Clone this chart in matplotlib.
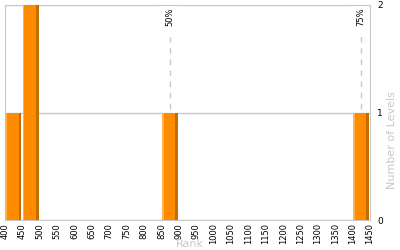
import matplotlib.pyplot as plt

# histogram bins (left edge) and counts
bin_left = [400, 450, 850, 1400]
counts = [1, 2, 1, 1]
bin_width = 50

# percentile markers
pct_labels = ["50%", "75%"]
pct_values = [875, 1424]

xticks = list(range(400, 1451, 50))
yticks = [0, 1, 2]

fig = plt.figure(figsize=(4, 2.5), dpi=100)
ax = fig.add_axes([0.0125, 0.12, 0.9125, 0.86])

main = "#ff8c00"
light = "#ffb34d"
dark = "#c46e00"

for left, c in zip(bin_left, counts):
    w = bin_width - 4
    x0 = left + 1
    ax.bar(x0, c, width=w, align="edge", color=main, linewidth=0, zorder=3)
    ax.bar(x0, c, width=5, align="edge", color=light, linewidth=0, zorder=4)
    ax.bar(x0 + w - 8, c, width=8, align="edge", color=dark, linewidth=0, zorder=4)

for lab, v in zip(pct_labels, pct_values):
    ax.axvline(v, color="#c8c8c8", linestyle=(0, (4, 4)), linewidth=1, zorder=1)
    ax.text(v, 1.98, lab, rotation=90, ha="center", va="top", fontsize=6,
            color="black", backgroundcolor="white", zorder=2)

ax.set_xlim(400, 1450)
ax.set_ylim(0, 2)
ax.set_xticks(xticks)
ax.set_xticklabels([str(t) for t in xticks], rotation=90, fontsize=6)
ax.set_yticks(yticks)
ax.yaxis.tick_right()
ax.tick_params(axis="y", length=0, labelsize=6.5, pad=5)
ax.tick_params(axis="x", length=0, pad=2)
ax.grid(axis="y", color="#c8c8c8", linewidth=1, zorder=0)
for s in ax.spines.values():
    s.set_color("#c8c8c8")

fig.text(190 / 400, 1 - 244 / 250, "Rank", color="#c8c8c8", fontsize=8,
         ha="center", va="center")
fig.text(392 / 400, 1 - 140 / 250, "Number of Levels", color="#c8c8c8",
         fontsize=8, ha="center", va="center", rotation=90)

fig.savefig("out.png", dpi=100)
